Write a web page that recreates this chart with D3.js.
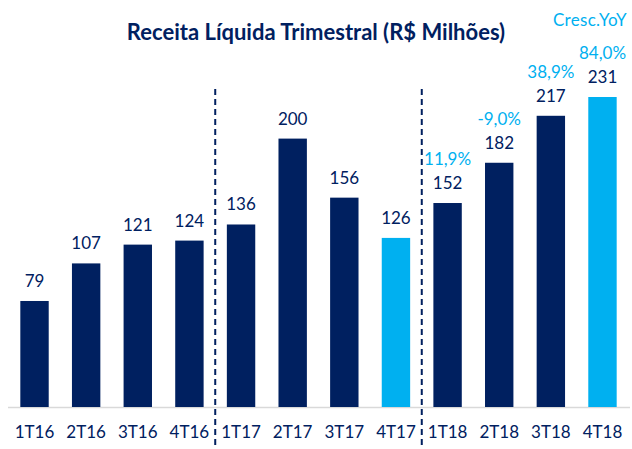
<!DOCTYPE html>
<html>
<head>
<meta charset="utf-8">
<script src="https://cdn.jsdelivr.net/npm/d3@7"></script>
<style>
  body { margin: 0; background: #fff; }
  svg { font-family: Lato, "Open Sans", sans-serif; }
</style>
</head>
<body>
<svg width="632" height="449"></svg>
<script>
let quarters = ["1T16", "2T16", "3T16", "4T16", "1T17", "2T17", "3T17", "4T17", "1T18", "2T18", "3T18", "4T18"];
let receita = [79, 107, 121, 124, 136, 200, 156, 126, 152, 182, 217, 231];
let highlight = ["4T17", "4T18"];
let yoyQuarters = ["1T18", "2T18", "3T18", "4T18"];
let yoyLabels = ["11,9%", "-9,0%", "38,9%", "84,0%"];
let dividers = ["4T16", "4T17"];

let navy = "#002060";
let sky = "#00B0F0";

let svg = d3.select("svg");
let baseY = 407;

let x = d3.scaleBand().domain(quarters).range([8.7, 628.3]).paddingInner(0.45).paddingOuter(0.225);
let y = d3.scaleLinear().domain([0, 231]).range([baseY, 97]);

// title
svg.append("text")
  .attr("x", 316).attr("y", 40)
  .attr("text-anchor", "middle")
  .style("font-size", "22px").style("font-weight", "bold")
  .attr("fill", navy)
  .text("Receita Líquida Trimestral (R$ Milhões)");

// axis line
svg.append("line")
  .attr("x1", 8).attr("x2", 630)
  .attr("y1", baseY + 0.5).attr("y2", baseY + 0.5)
  .attr("stroke", "#d9d9d9").attr("stroke-width", 1.5);

// year dividers
let step = x.step();
svg.selectAll("line.div").data(dividers).enter().append("line")
  .attr("class", "div")
  .attr("x1", d => x(d) + x.bandwidth() + (step - x.bandwidth()) / 2)
  .attr("x2", d => x(d) + x.bandwidth() + (step - x.bandwidth()) / 2)
  .attr("y1", 89).attr("y2", 449)
  .attr("stroke", navy).attr("stroke-width", 2)
  .attr("stroke-dasharray", "6,4");

// bars
let data = quarters.map((q, i) => ({ q: q, v: receita[i] }));
svg.selectAll("rect").data(data).enter().append("rect")
  .attr("x", d => x(d.q))
  .attr("width", x.bandwidth())
  .attr("y", d => y(d.v))
  .attr("height", d => baseY - y(d.v))
  .attr("fill", d => highlight.includes(d.q) ? sky : navy);

// value labels
svg.selectAll("text.val").data(data).enter().append("text")
  .attr("class", "val")
  .attr("x", d => x(d.q) + x.bandwidth() / 2)
  .attr("y", d => y(d.v) - 14)
  .attr("text-anchor", "middle")
  .style("font-size", "17px")
  .attr("fill", navy)
  .text(d => d.v);

// YoY labels
let yoy = yoyQuarters.map((q, i) => ({ q: q, t: yoyLabels[i], v: receita[quarters.indexOf(q)] }));
svg.selectAll("text.yoy").data(yoy).enter().append("text")
  .attr("class", "yoy")
  .attr("x", d => x(d.q) + x.bandwidth() / 2)
  .attr("y", d => y(d.v) - 38)
  .attr("text-anchor", "middle")
  .style("font-size", "17px")
  .attr("fill", sky)
  .text(d => d.t);

svg.append("text")
  .attr("x", 627)
  .attr("y", 26)
  .attr("text-anchor", "end")
  .style("font-size", "17px")
  .style("letter-spacing", "0.3px")
  .attr("fill", sky)
  .text("Cresc.YoY");

// x labels
svg.selectAll("text.cat").data(quarters).enter().append("text")
  .attr("class", "cat")
  .attr("x", d => x(d) + x.bandwidth() / 2)
  .attr("y", 438)
  .attr("text-anchor", "middle")
  .style("font-size", "17px")
  .attr("fill", navy)
  .text(d => d);
</script>
</body>
</html>
